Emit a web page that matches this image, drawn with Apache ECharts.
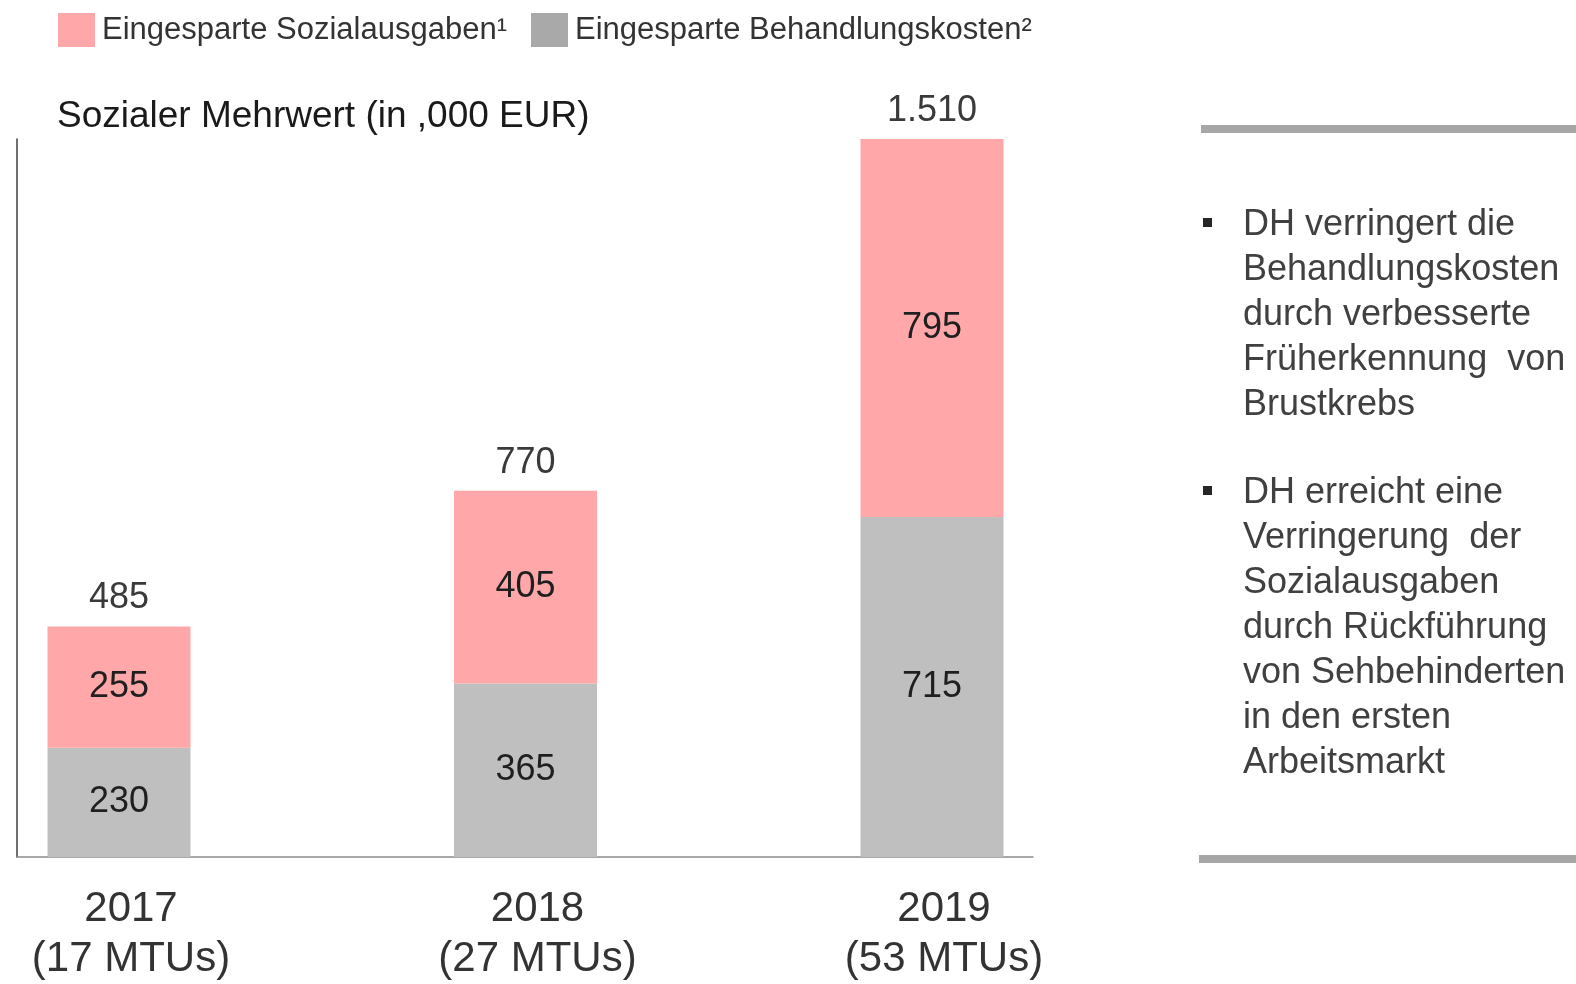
<!DOCTYPE html>
<html>
<head>
<meta charset="utf-8">
<script src="https://cdn.jsdelivr.net/npm/echarts@6/dist/echarts.min.js"></script>
<style>
html,body{margin:0;padding:0;background:#fff;}
#chart{width:1576px;height:984px;}
</style>
</head>
<body>
<div id="chart"></div>
<script>
// ---- data ----
var years = ['2017', '2018', '2019'];
var mtus = ['(17 MTUs)', '(27 MTUs)', '(53 MTUs)'];
var behandlungskosten = [230, 365, 715];
var sozialausgaben = [255, 405, 795];
var seriesNames = ['Eingesparte Sozialausgaben\u00B9', 'Eingesparte Behandlungskosten\u00B2'];
var chartTitle = 'Sozialer Mehrwert (in ,000 EUR)';
var bullet1 = ['DH verringert die', 'Behandlungskosten', 'durch verbesserte', 'Fr\u00FCherkennung  von', 'Brustkrebs'];
var bullet2 = ['DH erreicht eine', 'Verringerung  der', 'Sozialausgaben', 'durch R\u00FCckf\u00FChrung', 'von Sehbehinderten', 'in den ersten', 'Arbeitsmarkt'];

var categories = years.map(function (y, i) { return y + '\n' + mtus[i]; });
var totals = behandlungskosten.map(function (v, i) { return v + sozialausgaben[i]; });
function fmtDE(v) { return String(v).replace(/\B(?=(\d{3})+(?!\d))/g, '.'); }

var FONT = '"Liberation Sans", Arial, sans-serif';
var PINK = '#ffa7a9';
var GRAY = '#bfbfbf';

var chart = echarts.init(document.getElementById('chart'), null, {renderer: 'canvas'});
chart.setOption({
  backgroundColor: '#ffffff',
  animation: false,
  textStyle: {fontFamily: FONT},
  title: {
    text: chartTitle,
    left: 52,
    top: 93,
    textStyle: {fontFamily: FONT, fontSize: 37, fontWeight: 'normal', color: '#1a1a1a'}
  },
  legend: {
    left: 53,
    top: 8,
    itemWidth: 37,
    itemHeight: 34,
    itemGap: 24,
    icon: 'rect',
    data: [
      {name: seriesNames[0], itemStyle: {color: PINK}},
      {name: seriesNames[1], itemStyle: {color: '#a9a9a9'}}
    ],
    textStyle: {fontFamily: FONT, fontSize: 31, color: '#333333', padding: [0, 0, 0, 2]}
  },
  grid: [
    {left: 119, right: 644, top: 139, bottom: 127},
    {left: 17, right: 543, top: 139, bottom: 127}
  ],
  xAxis: [
    {
      type: 'category', gridIndex: 0, data: categories, boundaryGap: false,
      axisLine: {show: false}, axisTick: {show: false},
      axisLabel: {
        margin: 27, fontSize: 42, lineHeight: 50, color: '#333333', fontFamily: FONT,
        padding: [0, 0, 0, 24]
      }
    },
    {
      type: 'value', gridIndex: 1, min: 0, max: 1,
      axisLine: {show: true, lineStyle: {color: '#8c8c8c', width: 1.5}},
      axisTick: {show: false}, axisLabel: {show: false}, splitLine: {show: false}
    }
  ],
  yAxis: [
    {type: 'value', gridIndex: 0, min: 0, max: 1510, show: false, splitLine: {show: false}},
    {
      type: 'value', gridIndex: 1, min: 0, max: 1,
      axisLine: {show: true, onZero: false, lineStyle: {color: '#404040', width: 1.5}},
      axisTick: {show: false}, axisLabel: {show: false}, splitLine: {show: false}
    }
  ],
  series: [
    {
      name: seriesNames[1], type: 'bar', stack: 'total', xAxisIndex: 0, yAxisIndex: 0,
      data: behandlungskosten, barWidth: 143, clip: false,
      itemStyle: {color: GRAY},
      label: {show: true, position: 'inside', fontSize: 36, color: '#1f1f1f', fontFamily: FONT}
    },
    {
      name: seriesNames[0], type: 'bar', stack: 'total', xAxisIndex: 0, yAxisIndex: 0,
      data: sozialausgaben, barWidth: 143, clip: false,
      itemStyle: {color: PINK},
      label: {show: true, position: 'inside', fontSize: 36, color: '#1f1f1f', fontFamily: FONT}
    },
    {
      name: 'Summe', type: 'scatter', xAxisIndex: 0, yAxisIndex: 0, clip: false,
      data: totals, symbolSize: 0, silent: true,
      itemStyle: {opacity: 1},
      label: {
        show: true, position: 'top', distance: 10, fontSize: 36, color: '#3a3a3a', fontFamily: FONT,
        formatter: function (p) { return fmtDE(p.value); }
      }
    }
  ],
  graphic: [
    {type: 'rect', shape: {x: 1201, y: 125, width: 375, height: 8}, style: {fill: '#a6a6a6'}},
    {type: 'rect', shape: {x: 1199, y: 855, width: 377, height: 8}, style: {fill: '#a6a6a6'}},
    {type: 'rect', shape: {x: 1203, y: 218, width: 9, height: 9}, style: {fill: '#262626'}},
    {type: 'rect', shape: {x: 1203, y: 486, width: 9, height: 9}, style: {fill: '#262626'}},
    {
      type: 'text', x: 1243, y: 203,
      style: {text: bullet1.join('\n'), font: '36px ' + FONT, lineHeight: 45, fill: '#404040', verticalAlign: 'top'}
    },
    {
      type: 'text', x: 1243, y: 471,
      style: {text: bullet2.join('\n'), font: '36px ' + FONT, lineHeight: 45, fill: '#404040', verticalAlign: 'top'}
    }
  ]
});
</script>
</body>
</html>
